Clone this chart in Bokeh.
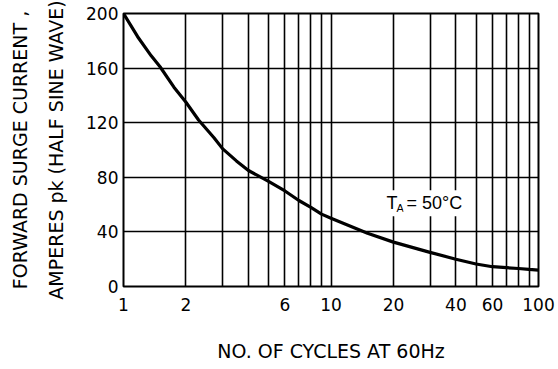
from bokeh.plotting import figure
from bokeh.models import Range1d, FixedTicker, Label, BasicTickFormatter
from bokeh.embed import file_html
from bokeh.resources import INLINE

# Data
cycles = [1, 1.17, 1.36, 1.5, 1.75, 2, 2.3, 2.73, 3, 3.5, 4, 5, 6, 7, 8, 9, 10,
          15, 20, 30, 40, 50, 60, 70, 80, 90, 100]
surge_current = [200, 183, 169, 161, 146, 135, 122, 109, 101, 92, 85, 77, 70, 63,
                 58, 53, 50, 39, 32.5, 25, 20, 16.5, 14.5, 13.8, 13.2, 12.5, 12]

x_tick_values = [1, 2, 6, 10, 20, 40, 60, 100]
x_tick_labels = ["1", "2", "6", "10", "20", "40", "60", "100"]
x_grid_values = [1, 2, 3, 4, 5, 6, 7, 8, 9, 10, 20, 30, 40, 50, 60, 70, 80, 90, 100]
y_tick_values = [0, 40, 80, 120, 160, 200]

FONT = "DejaVu Sans"

p = figure(width=558, height=369, x_axis_type="log",
           x_range=Range1d(1, 100), y_range=Range1d(0, 200),
           output_backend="svg", toolbar_location=None,
           min_border_left=123, min_border_right=20,
           min_border_top=13, min_border_bottom=83)

p.background_fill_color = "white"
p.border_fill_color = "white"
p.outline_line_color = "black"
p.outline_line_width = 2
p.outline_line_alpha = 1

# grids
p.xgrid.ticker = FixedTicker(ticks=x_grid_values)
p.ygrid.ticker = FixedTicker(ticks=y_tick_values)
for g in (p.xgrid, p.ygrid):
    g.grid_line_color = "black"
    g.grid_line_width = 1.6
    g.grid_line_alpha = 1

# x axis
xa = p.xaxis[0]
xa.ticker = FixedTicker(ticks=x_tick_values)
xa.formatter = BasicTickFormatter()
xa.major_label_overrides = {v: s for v, s in zip(x_tick_values, x_tick_labels)}
xa.axis_line_color = None
xa.major_tick_line_color = None
xa.minor_tick_line_color = None
xa.major_tick_out = 0
xa.major_tick_in = 0
xa.minor_tick_out = 0
xa.minor_tick_in = 0
xa.major_label_standoff = 11
xa.major_label_text_font = FONT
xa.major_label_text_font_size = "17px"
xa.major_label_text_color = "black"
xa.axis_label = "NO. OF CYCLES AT 60Hz"
xa.axis_label_text_font = FONT
xa.axis_label_text_font_size = "19px"
xa.axis_label_text_font_style = "normal"
xa.axis_label_text_color = "black"
xa.axis_label_standoff = 26
xa.axis_label_text_line_height = 1.0

# y axis
ya = p.yaxis[0]
ya.ticker = FixedTicker(ticks=y_tick_values)
ya.axis_line_color = None
ya.major_tick_line_color = None
ya.minor_tick_line_color = None
ya.major_tick_out = 0
ya.major_tick_in = 0
ya.minor_tick_out = 0
ya.minor_tick_in = 0
ya.major_label_standoff = 5
ya.major_label_text_font = FONT
ya.major_label_text_font_size = "17px"
ya.major_label_text_color = "black"
ya.axis_label = "FORWARD SURGE CURRENT ,\nAMPERES pk (HALF SINE WAVE)"
ya.axis_label_text_font = FONT
ya.axis_label_text_font_size = "19px"
ya.axis_label_text_font_style = "normal"
ya.axis_label_text_color = "black"
ya.axis_label_text_line_height = 1.66
ya.axis_label_standoff = 16

# curve
p.line(cycles, surge_current, line_color="black", line_width=3.2)

# annotation T_A = 50°C
ann_font = "Liberation Sans"
lab_t = Label(x=20, y=61, text="T", x_offset=-10, text_baseline="middle",
              text_font=ann_font, text_font_size="18px", text_color="black",
              background_fill_color="white", background_fill_alpha=1, padding=3)
lab_a = Label(x=20, y=61, text="A", x_offset=1, y_offset=-5, text_baseline="middle",
              text_font=ann_font, text_font_size="11px", text_color="black",
              background_fill_color="white", background_fill_alpha=1, padding=2)
lab_rest = Label(x=20, y=61, text="= 50°C", x_offset=10, text_baseline="middle",
                 text_font=ann_font, text_font_size="18px", text_color="black",
                 background_fill_color="white", background_fill_alpha=1, padding=3)
p.add_layout(lab_t)
p.add_layout(lab_a)
p.add_layout(lab_rest)

open("out.html", "w").write(file_html(p, INLINE))
